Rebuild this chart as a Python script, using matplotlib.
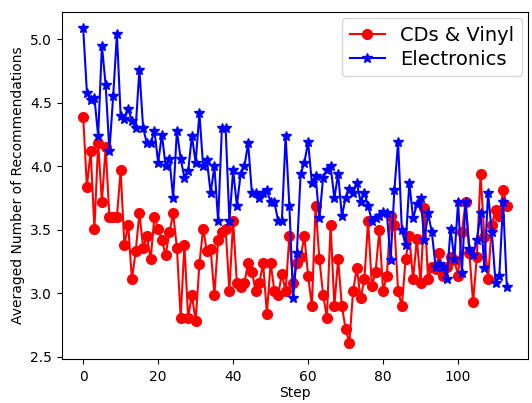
import numpy as np
import matplotlib
matplotlib.use("Agg")
import matplotlib.pyplot as plt

# 読み取った値（ステップごとの平均推薦数）
cds_vinyl = [
    4.39, 3.84, 4.12, 3.51, 4.18, 3.72, 4.15, 3.60, 3.60, 3.60,
    3.97, 3.38, 3.54, 3.11, 3.33, 3.63, 3.36, 3.45, 3.27, 3.60,
    3.51, 3.42, 3.30, 3.48, 3.63, 3.36, 2.81, 3.38, 2.81, 2.99,
    2.78, 3.23, 3.51, 3.33, 3.35, 2.99, 3.42, 3.48, 3.51, 3.02,
    3.57, 3.08, 3.05, 3.08, 3.24, 3.17, 3.02, 3.08, 3.24, 2.84,
    3.24, 3.02, 2.99, 3.15, 3.02, 3.45, 3.08, 3.24, 3.29, 3.45,
    3.14, 2.90, 3.69, 3.27, 2.99, 2.81, 3.54, 2.90, 3.27, 2.90,
    2.72, 2.61, 3.02, 3.20, 2.96, 3.11, 3.57, 3.06, 3.17, 3.50,
    3.02, 3.14, 3.61, 3.54, 3.02, 2.90, 3.27, 3.45, 3.11, 3.43,
    3.08, 3.67, 3.11, 3.21, 3.19, 3.32, 3.14, 3.21, 3.29, 3.26,
    3.14, 3.48, 3.72, 3.32, 2.93, 3.29, 3.94, 3.44, 3.11, 3.54,
    3.66, 3.61, 3.81, 3.69,
]
electronics = [
    5.09, 4.58, 4.52, 4.54, 4.24, 4.95, 4.64, 4.12, 4.55, 5.04,
    4.40, 4.37, 4.45, 4.36, 4.30, 4.76, 4.30, 4.18, 4.18, 4.28,
    4.03, 4.25, 4.00, 4.06, 3.75, 4.28, 4.06, 3.91, 3.96, 4.24,
    4.03, 4.42, 4.00, 4.05, 3.79, 4.00, 3.57, 4.30, 4.30, 3.57,
    3.97, 3.69, 3.94, 4.00, 4.18, 3.79, 3.79, 3.75, 3.79, 3.81,
    3.72, 3.72, 3.57, 3.57, 4.24, 3.69, 2.96, 3.32, 3.94, 4.03,
    4.19, 3.87, 3.92, 3.59, 3.91, 3.97, 4.00, 3.75, 3.94, 3.61,
    3.75, 3.82, 3.79, 3.87, 3.72, 3.79, 3.69, 3.57, 3.59, 3.61,
    3.64, 3.63, 3.26, 3.81, 4.19, 3.50, 3.38, 3.87, 3.59, 3.70,
    3.75, 3.42, 3.63, 3.48, 3.21, 3.23, 3.21, 3.11, 3.51, 3.27,
    3.72, 3.16, 3.72, 3.35, 3.30, 3.42, 3.63, 3.20, 3.79, 3.48,
    3.08, 3.14, 3.72, 3.05,
]
steps = np.arange(len(cds_vinyl))

fig = plt.figure(figsize=(5.32, 4.03), dpi=100)
ax = fig.add_axes([0.1165, 0.11, 0.876, 0.86])

ax.plot(steps, cds_vinyl, 'r-o', markersize=7, linewidth=1.5, label='CDs & Vinyl')
ax.plot(steps, electronics, 'b-*', markersize=7, linewidth=1.5, label='Electronics')

ax.set_xlabel("Step", fontsize=10, labelpad=1)
ax.set_ylabel("Averaged Number of Recommendations", fontsize=10)
ax.set_xticks([0, 20, 40, 60, 80, 100])
ax.set_yticks([2.5, 3.0, 3.5, 4.0, 4.5, 5.0])
ax.tick_params(axis='x', pad=5)
ax.legend(loc='upper right', fontsize=14, labelspacing=0.25,
          handlelength=1.8, borderaxespad=0.3)

plt.savefig("out.png", dpi=100)
plt.close()
